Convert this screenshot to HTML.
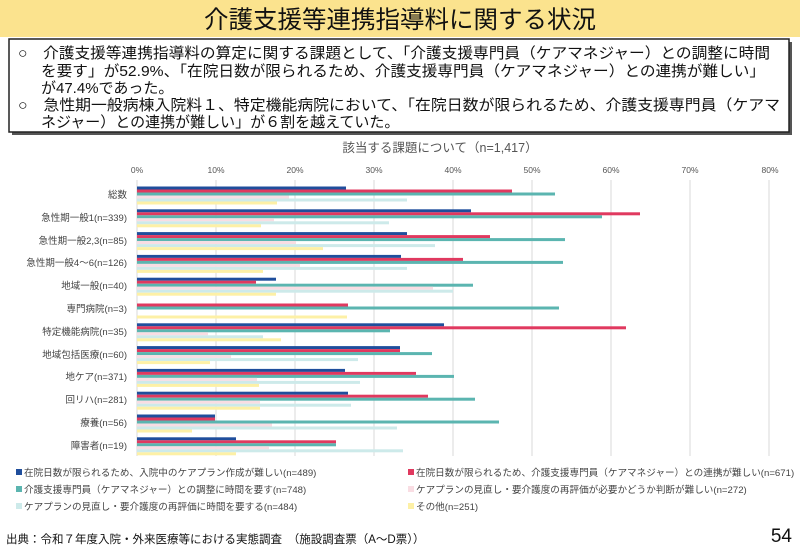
<!DOCTYPE html>
<html><head><meta charset="utf-8"><style>
body{margin:0;width:800px;height:554px;overflow:hidden;background:#fff;font-family:"Liberation Sans","Noto Sans CJK JP",sans-serif;}
</style></head><body>
<svg width="800" height="554" xmlns="http://www.w3.org/2000/svg" style="position:absolute;left:0;top:0;font-family:'Liberation Sans','Noto Sans CJK JP',sans-serif">
<rect x="0" y="0" width="800" height="37" fill="#fbe38e"/>
<text x="400" y="28" font-size="24.5" text-anchor="middle" fill="#111">介護支援等連携指導料に関する状況</text>
<rect x="12" y="42" width="780" height="93" fill="#555"/>
<rect x="9" y="39" width="780" height="93" fill="#fff" stroke="#222" stroke-width="1.5"/>
<g font-size="15" fill="#111">
<text x="18" y="58" textLength="752" lengthAdjust="spacingAndGlyphs">○　介護支援等連携指導料の算定に関する課題として、「介護支援専門員（ケアマネジャー）との調整に時間</text>
<text x="41" y="76" textLength="724" lengthAdjust="spacingAndGlyphs">を要す」が52.9%、「在院日数が限られるため、介護支援専門員（ケアマネジャー）との連携が難しい」</text>
<text x="41" y="93">が47.4%であった。</text>
<text x="18" y="110" textLength="762" lengthAdjust="spacingAndGlyphs">○　急性期一般病棟入院料１、特定機能病院において、「在院日数が限られるため、介護支援専門員（ケアマ</text>
<text x="41" y="127">ネジャー）との連携が難しい」が６割を越えていた。</text>
</g>
<text x="440" y="152" font-size="12.5" text-anchor="middle" fill="#555">該当する課題について（n=1,417）</text>
<g font-size="8.5" fill="#555" text-anchor="middle">
<text x="137" y="173">0%</text><text x="216" y="173">10%</text><text x="295" y="173">20%</text><text x="374" y="173">30%</text><text x="453" y="173">40%</text><text x="532" y="173">50%</text><text x="611" y="173">60%</text><text x="690" y="173">70%</text><text x="770" y="173">80%</text>
</g>
<g stroke="#d9d9d9" stroke-width="1">
<line x1="216" y1="180" x2="216" y2="456"/><line x1="295" y1="180" x2="295" y2="456"/><line x1="374" y1="180" x2="374" y2="456"/><line x1="453" y1="180" x2="453" y2="456"/><line x1="532" y1="180" x2="532" y2="456"/><line x1="611" y1="180" x2="611" y2="456"/><line x1="690" y1="180" x2="690" y2="456"/><line x1="769" y1="180" x2="769" y2="456"/>
<line x1="137" y1="180" x2="137" y2="456"/>
</g>
<g font-size="9.5" fill="#444" text-anchor="end">
<text x="127" y="198">総数</text>
<text x="127" y="221">急性期一般1(n=339)</text>
<text x="127" y="244">急性期一般2,3(n=85)</text>
<text x="127" y="266">急性期一般4～6(n=126)</text>
<text x="127" y="289">地域一般(n=40)</text>
<text x="127" y="312">専門病院(n=3)</text>
<text x="127" y="335">特定機能病院(n=35)</text>
<text x="127" y="358">地域包括医療(n=60)</text>
<text x="127" y="380">地ケア(n=371)</text>
<text x="127" y="403">回リハ(n=281)</text>
<text x="127" y="426">療養(n=56)</text>
<text x="127" y="449">障害者(n=19)</text>
</g>
<g id="bars">
<g transform="translate(137,186.5)"><rect y="0" height="3" width="209" fill="#1f4e9c"/><rect y="3" height="3" width="375" fill="#e0395f"/><rect y="6" height="3" width="418" fill="#5bb5b0"/><rect y="9" height="3" width="152" fill="#f9dde3"/><rect y="12" height="3" width="270" fill="#cdeaea"/><rect y="15" height="3" width="140" fill="#fdf0a6"/></g>
<g transform="translate(137,209.3)"><rect y="0" height="3" width="334" fill="#1f4e9c"/><rect y="3" height="3" width="503" fill="#e0395f"/><rect y="6" height="3" width="465" fill="#5bb5b0"/><rect y="9" height="3" width="137" fill="#f9dde3"/><rect y="12" height="3" width="252" fill="#cdeaea"/><rect y="15" height="3" width="124" fill="#fdf0a6"/></g>
<g transform="translate(137,232.1)"><rect y="0" height="3" width="270" fill="#1f4e9c"/><rect y="3" height="3" width="353" fill="#e0395f"/><rect y="6" height="3" width="428" fill="#5bb5b0"/><rect y="9" height="3" width="159" fill="#f9dde3"/><rect y="12" height="3" width="298" fill="#cdeaea"/><rect y="15" height="3" width="186" fill="#fdf0a6"/></g>
<g transform="translate(137,254.9)"><rect y="0" height="3" width="264" fill="#1f4e9c"/><rect y="3" height="3" width="326" fill="#e0395f"/><rect y="6" height="3" width="426" fill="#5bb5b0"/><rect y="9" height="3" width="163" fill="#f9dde3"/><rect y="12" height="3" width="270" fill="#cdeaea"/><rect y="15" height="3" width="126" fill="#fdf0a6"/></g>
<g transform="translate(137,277.7)"><rect y="0" height="3" width="139" fill="#1f4e9c"/><rect y="3" height="3" width="119" fill="#e0395f"/><rect y="6" height="3" width="336" fill="#5bb5b0"/><rect y="9" height="3" width="296" fill="#f9dde3"/><rect y="12" height="3" width="316" fill="#cdeaea"/><rect y="15" height="3" width="139" fill="#fdf0a6"/></g>
<g transform="translate(137,300.5)"><rect y="3" height="3" width="211" fill="#e0395f"/><rect y="6" height="3" width="422" fill="#5bb5b0"/><rect y="15" height="3" width="210" fill="#fdf0a6"/></g>
<g transform="translate(137,323.3)"><rect y="0" height="3" width="307" fill="#1f4e9c"/><rect y="3" height="3" width="489" fill="#e0395f"/><rect y="6" height="3" width="253" fill="#5bb5b0"/><rect y="9" height="3" width="71" fill="#f9dde3"/><rect y="12" height="3" width="126" fill="#cdeaea"/><rect y="15" height="3" width="144" fill="#fdf0a6"/></g>
<g transform="translate(137,346.1)"><rect y="0" height="3" width="263" fill="#1f4e9c"/><rect y="3" height="3" width="263" fill="#e0395f"/><rect y="6" height="3" width="295" fill="#5bb5b0"/><rect y="9" height="3" width="94" fill="#f9dde3"/><rect y="12" height="3" width="221" fill="#cdeaea"/><rect y="15" height="3" width="73" fill="#fdf0a6"/></g>
<g transform="translate(137,368.9)"><rect y="0" height="3" width="208" fill="#1f4e9c"/><rect y="3" height="3" width="279" fill="#e0395f"/><rect y="6" height="3" width="317" fill="#5bb5b0"/><rect y="9" height="3" width="120" fill="#f9dde3"/><rect y="12" height="3" width="223" fill="#cdeaea"/><rect y="15" height="3" width="122" fill="#fdf0a6"/></g>
<g transform="translate(137,391.7)"><rect y="0" height="3" width="211" fill="#1f4e9c"/><rect y="3" height="3" width="291" fill="#e0395f"/><rect y="6" height="3" width="338" fill="#5bb5b0"/><rect y="9" height="3" width="123" fill="#f9dde3"/><rect y="12" height="3" width="214" fill="#cdeaea"/><rect y="15" height="3" width="123" fill="#fdf0a6"/></g>
<g transform="translate(137,414.5)"><rect y="0" height="3" width="78" fill="#1f4e9c"/><rect y="3" height="3" width="78" fill="#e0395f"/><rect y="6" height="3" width="362" fill="#5bb5b0"/><rect y="9" height="3" width="135" fill="#f9dde3"/><rect y="12" height="3" width="260" fill="#cdeaea"/><rect y="15" height="3" width="55" fill="#fdf0a6"/></g>
<g transform="translate(137,437.3)"><rect y="0" height="3" width="99" fill="#1f4e9c"/><rect y="3" height="3" width="199" fill="#e0395f"/><rect y="6" height="3" width="199" fill="#5bb5b0"/><rect y="9" height="3" width="132" fill="#f9dde3"/><rect y="12" height="3" width="266" fill="#cdeaea"/><rect y="15" height="3" width="99" fill="#fdf0a6"/></g>
</g>
<g font-size="9.6" fill="#444">
<rect x="16" y="469" width="6" height="6" fill="#1f4e9c"/><text x="24" y="476">在院日数が限られるため、入院中のケアプラン作成が難しい(n=489)</text>
<rect x="408" y="469" width="6" height="6" fill="#e0395f"/><text x="416" y="476">在院日数が限られるため、介護支援専門員（ケアマネジャー）との連携が難しい(n=671)</text>
<rect x="16" y="486" width="6" height="6" fill="#5bb5b0"/><text x="24" y="493">介護支援専門員（ケアマネジャー）との調整に時間を要す(n=748)</text>
<rect x="408" y="486" width="6" height="6" fill="#f9dde3"/><text x="416" y="493">ケアプランの見直し・要介護度の再評価が必要かどうか判断が難しい(n=272)</text>
<rect x="16" y="503" width="6" height="6" fill="#cdeaea"/><text x="24" y="510">ケアプランの見直し・要介護度の再評価に時間を要する(n=484)</text>
<rect x="408" y="503" width="6" height="6" fill="#fdf0a6"/><text x="416" y="510">その他(n=251)</text>
</g>
<text x="6" y="543" font-size="11.5" fill="#111">出典：令和７年度入院・外来医療等における実態調査　（施設調査票（A～D票））</text>
<text x="792" y="542" font-size="19" fill="#111" text-anchor="end">54</text>
</svg>
</body></html>
